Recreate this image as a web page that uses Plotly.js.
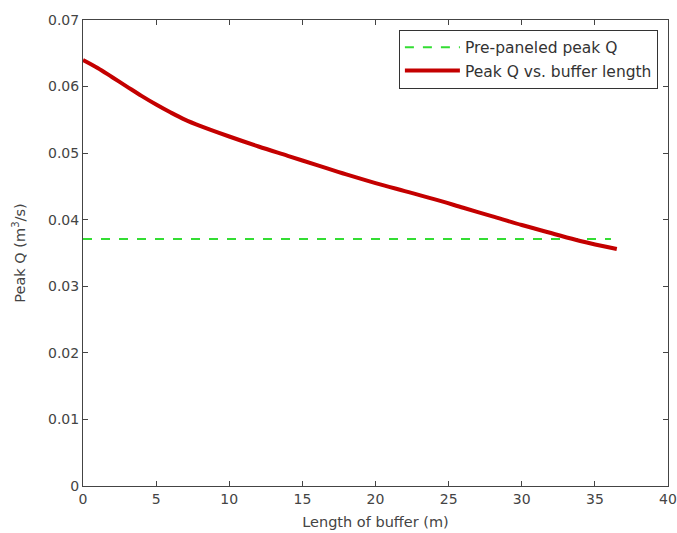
<!DOCTYPE html>
<html><head><meta charset="utf-8">
<script src="https://cdn.plot.ly/plotly-3.0.1.min.js"></script>
<style>body{margin:0;background:#fff}#chart{width:677px;height:533px}</style>
</head><body><div id="chart"></div>
<script>
const bufferLength = [0,1,2,3,4,5,6,7,8,10,12,14,16,18,20,22,24,26,28,30,32,34,36.5];
const peakQ = [0.0640,0.0628,0.0614,0.0600,0.0586,0.0573,0.0561,0.0550,0.0541,0.0525,0.0510,0.0496,0.0482,0.0468,0.0455,0.0443,0.0431,0.0418,0.0405,0.0392,0.0380,0.0368,0.0356];
const prePaneledX = [0, 36.1];
const prePaneledQ = [0.0371, 0.0371];
const xTicks = [0,5,10,15,20,25,30,35,40];
const yTicks = [0,0.01,0.02,0.03,0.04,0.05,0.06,0.07];

const fam = 'DejaVu Sans, Liberation Sans, sans-serif';
const tickFont = {family:fam, size:14, color:'#444'};
const titleFont = {family:fam, size:14.5, color:'#444'};
const legFont = {family:fam, size:15.5, color:'#333'};
const traces = [
  {x: prePaneledX, y: prePaneledQ, mode:'lines', name:'Pre-paneled peak Q',
   line:{color:'#33dd33', width:2, dash:'dash'}},
  {x: bufferLength, y: peakQ, mode:'lines', name:'Peak Q vs. buffer length',
   line:{color:'#c40000', width:4, shape:'spline'}}
];
const axisBase = {showgrid:false, zeroline:false, showline:true, linecolor:'#444', linewidth:1,
  mirror:'ticks', ticks:'inside', ticklen:5, tickcolor:'#444', tickfont:tickFont,
  automargin:false, ticklabeloverflow:'allow'};
const layout = {
  width:677, height:533,
  margin:{l:83, r:9, t:20, b:47},
  paper_bgcolor:'#fff', plot_bgcolor:'#fff',
  font: tickFont,
  showlegend:true,
  legend:{x:0.54, y:0.979, xanchor:'left', yanchor:'top', bgcolor:'#fff',
    bordercolor:'#333', borderwidth:1, font:legFont, itemwidth:55},
  xaxis: Object.assign({}, axisBase, {range:[0,40], tickvals:xTicks, ticktext:xTicks.map(String),
    title:{text:'Length of buffer (m)', font:titleFont, standoff:11}}),
  yaxis: Object.assign({}, axisBase, {range:[0,0.07], tickvals:yTicks, ticktext:yTicks.map(String),
    title:{text:'Peak Q (m<sup>3</sup>/s)', font:titleFont, standoff:18}})
};
Plotly.newPlot('chart', traces, layout, {displayModeBar:false, staticPlot:true}).then(gd => {
  document.querySelectorAll('.legend .legendlines path').forEach(p => p.setAttribute('d', 'M5,0h55'));
});
</script></body></html>
